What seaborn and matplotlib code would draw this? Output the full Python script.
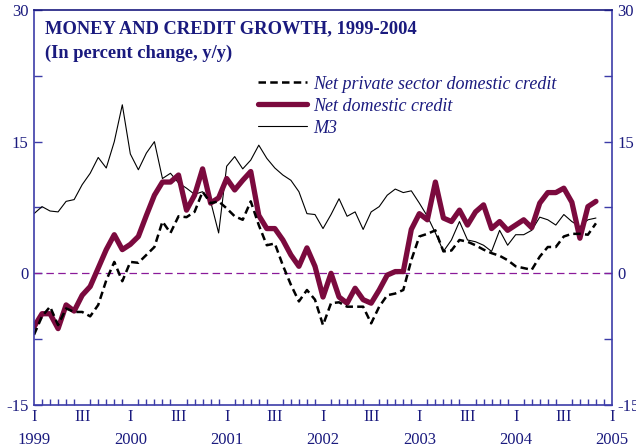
import numpy as np
import pandas as pd
import matplotlib
matplotlib.use('Agg')
import matplotlib.pyplot as plt
import seaborn as sns
from matplotlib.ticker import FixedLocator, FixedFormatter

# 月度数据: 1999年1月 .. 2004年11月 (同比增速, %)
months = np.arange(71)

m3 = [6.8, 7.6, 7.1, 7.0, 8.2, 8.4, 10.1, 11.4, 13.2, 12.0, 15.0, 19.2,
      13.6, 11.8, 13.7, 15.0, 10.8, 11.4, 10.3, 9.7, 9.0, 9.3, 8.2, 4.6,
      12.2, 13.3, 11.9, 12.9, 14.6, 13.1, 12.0, 11.2, 10.6, 9.3, 6.8, 6.7,
      5.1, 6.7, 8.5, 6.5, 7.0, 5.0, 7.0, 7.6, 8.9, 9.6, 9.2, 9.4,
      8.0, 6.5, 4.6, 2.5, 3.8, 5.9, 3.8, 3.6, 3.2, 2.5, 4.9, 3.2,
      4.4, 4.4, 4.9, 6.4, 6.1, 5.5, 6.7, 5.9, 5.3, 6.1, 6.3]

net_domestic = [-6.1, -4.6, -4.6, -6.3, -3.6, -4.3, -2.5, -1.5, 0.6, 2.7, 4.4, 2.7,
                3.3, 4.2, 6.6, 8.9, 10.4, 10.4, 11.2, 7.2, 8.9, 11.9, 8.0, 8.6,
                10.8, 9.5, 10.6, 11.6, 6.6, 5.1, 5.1, 3.8, 2.1, 0.8, 2.9, 0.8,
                -2.7, 0.0, -2.7, -3.4, -1.7, -3.0, -3.4, -1.9, -0.2, 0.2, 0.2, 5.0,
                6.8, 6.1, 10.4, 6.3, 5.9, 7.2, 5.5, 7.0, 7.8, 5.1, 5.9, 4.9,
                5.5, 6.1, 5.2, 8.0, 9.2, 9.2, 9.7, 8.1, 4.0, 7.6, 8.2]

net_private = [-7.0, -4.9, -3.8, -5.9, -4.0, -4.4, -4.4, -4.9, -3.6, -0.8, 1.3, -0.9,
               1.3, 1.2, 2.1, 3.0, 5.9, 4.6, 6.5, 6.4, 7.0, 9.3, 8.0, 8.2,
               7.4, 6.5, 6.1, 8.2, 5.5, 3.2, 3.4, 0.9, -1.3, -3.2, -1.9, -3.0,
               -5.9, -3.4, -3.3, -3.8, -3.8, -3.8, -5.7, -3.8, -2.5, -2.3, -1.9, 1.5,
               4.2, 4.5, 4.9, 2.5, 2.6, 3.8, 3.6, 3.2, 2.7, 2.3, 2.0, 1.5,
               0.8, 0.6, 0.4, 1.9, 3.0, 3.0, 4.2, 4.5, 4.5, 4.4, 5.7]

years = ['1999', '2000', '2001', '2002', '2003', '2004', '2005']
quarter_labels = ['I', 'III']
y_ticks = [-15, 0, 15, 30]

navy = '#1a1a7e'
spine_blue = '#3c3ca8'
maroon = '#7b0a3e'

sns.set_theme(style='white')
plt.rcParams['font.family'] = ['Liberation Serif', 'DejaVu Serif']
plt.rcParams['axes.unicode_minus'] = False

df = pd.DataFrame({'month': months, 'm3': m3,
                   'net_domestic': net_domestic, 'net_private': net_private})

fig = plt.figure(figsize=(6.36, 4.47), dpi=100)
ax = fig.add_axes([34 / 636, 1 - 405 / 447, 578 / 636, 395 / 447])

# 画线
sns.lineplot(data=df, x='month', y='m3', ax=ax, color='black', linewidth=0.8,
             label='M3')
sns.lineplot(data=df, x='month', y='net_domestic', ax=ax, color=maroon,
             linewidth=3.8, label='Net domestic credit')
sns.lineplot(data=df, x='month', y='net_private', ax=ax, color='black',
             linewidth=1.8, dashes=False, label='Net private sector domestic credit')
ax.lines[-1].set_dashes([3.0, 1.7])

ax.axhline(0, color='#8a1a9a', linewidth=0.9, dashes=(6, 3.5), zorder=1)

ax.set_xlim(0, 72)
ax.set_ylim(-15, 30)
ax.set_xlabel('')
ax.set_ylabel('')

# x轴刻度
major_pos = []
major_lab = []
for i, yr in enumerate(years):
    major_pos.append(12 * i)
    major_lab.append(quarter_labels[0] + '\n' + yr)
    if i < len(years) - 1:
        major_pos.append(12 * i + 6)
        major_lab.append(quarter_labels[1])
ax.xaxis.set_major_locator(FixedLocator(major_pos))
ax.xaxis.set_major_formatter(FixedFormatter(major_lab))
ax.xaxis.set_minor_locator(FixedLocator([m for m in range(73) if m % 6 != 0]))
ax.tick_params(axis='x', which='major', direction='in', length=6, width=1,
               color=spine_blue, labelcolor=navy, labelsize=12, pad=3)
ax.tick_params(axis='x', which='minor', direction='in', length=4, width=1,
               color=spine_blue, bottom=True)
for lab in ax.get_xticklabels():
    lab.set_linespacing(1.55)

# y轴刻度, 两侧
ax.set_yticks(y_ticks)
ax.yaxis.set_minor_locator(FixedLocator([-7.5, 7.5, 22.5]))
ax.tick_params(axis='y', which='both', direction='in', color=spine_blue,
               labelcolor=navy, labelsize=12, left=True, right=True,
               labelleft=True, labelright=True, length=6, width=1, pad=4)

for side in ['left', 'right', 'bottom', 'top']:
    ax.spines[side].set_visible(True)
    ax.spines[side].set_color(spine_blue)
    ax.spines[side].set_linewidth(1.2)
ax.spines['top'].set_color('#1a1a7e')

# 标题
ax.text(0.019, 0.952, 'MONEY AND CREDIT GROWTH, 1999-2004', transform=ax.transAxes,
        fontsize=13.3, fontweight='bold', color=navy, va='center', ha='left')
ax.text(0.019, 0.89, '(In percent change, y/y)', transform=ax.transAxes,
        fontsize=13.3, fontweight='bold', color=navy, va='center', ha='left')

# 图例
handles, labels = ax.get_legend_handles_labels()
order = [2, 1, 0]
leg = ax.legend([handles[i] for i in order], [labels[i] for i in order],
                loc='upper left', bbox_to_anchor=(0.36, 0.875), frameon=False,
                handlelength=2.7, handletextpad=0.35, labelspacing=0.28,
                prop={'style': 'italic', 'size': 13})
for t in leg.get_texts():
    t.set_color(navy)
leg.get_lines()[0].set_dashes([3.0, 1.7])

fig.savefig('out.png', dpi=100)
